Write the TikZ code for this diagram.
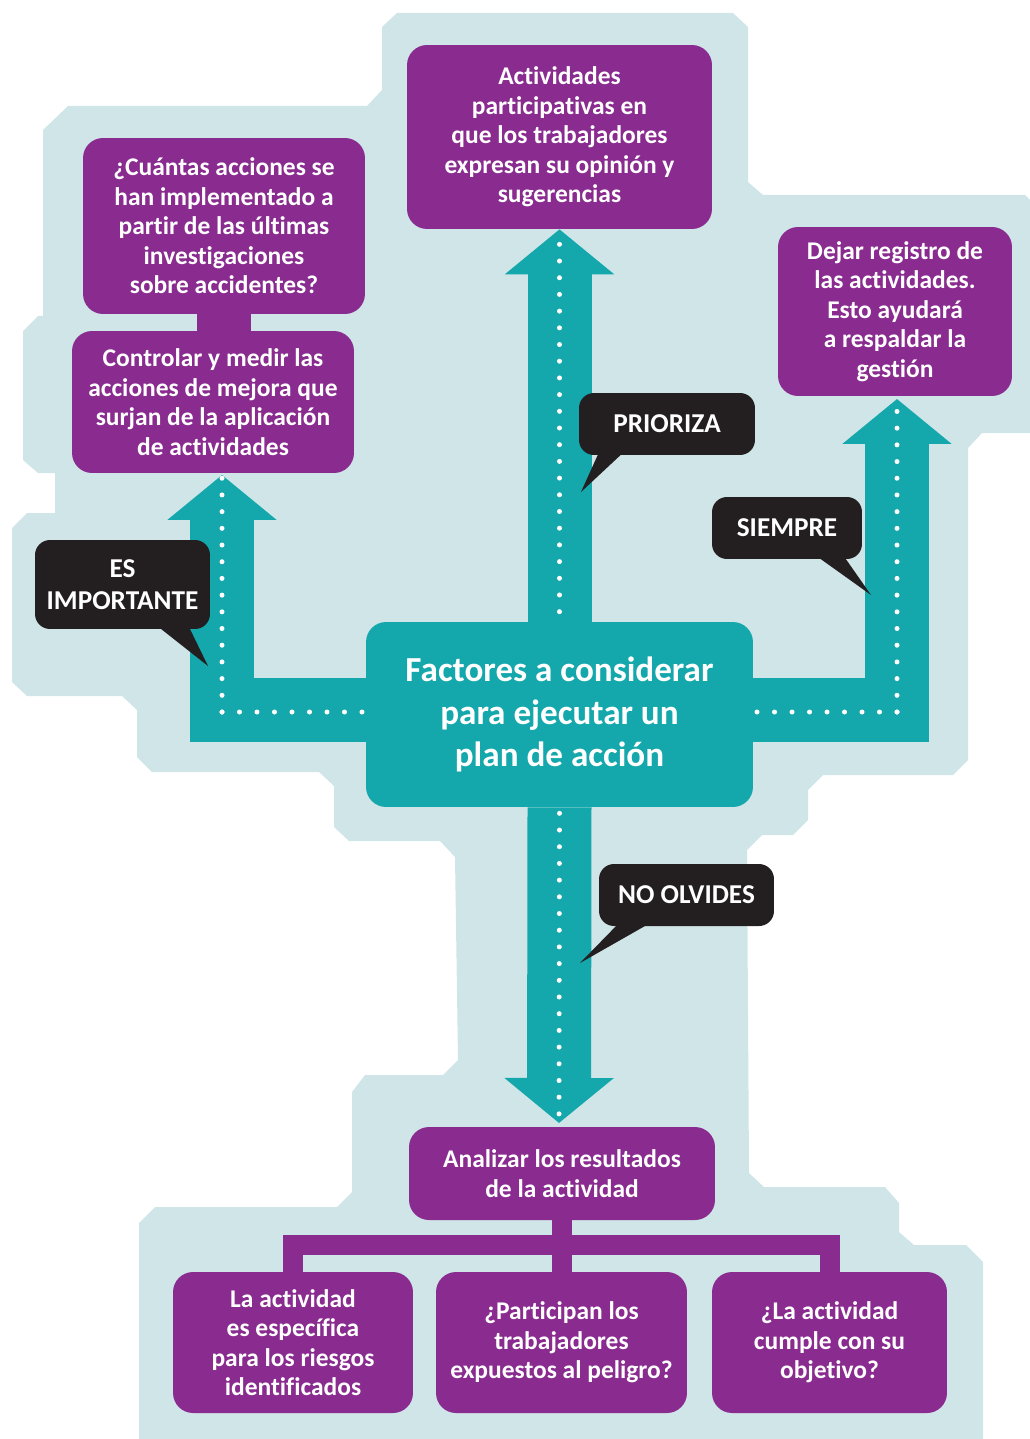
\documentclass[tikz,border=0pt]{standalone}
\usepackage{fontspec}
\setmainfont{Carlito}[Ligatures=NoCommon]
\usetikzlibrary{arrows.meta}
\definecolor{bgblue}{RGB}{208,229,232}
\definecolor{tealx}{RGB}{20,167,171}
\definecolor{purp}{RGB}{137,43,143}
\definecolor{ink}{RGB}{35,31,32}

\begin{document}
\begin{tikzpicture}[x=0.02cm, y=-0.02cm,
    box/.style={fill=purp, text=white, rounded corners=0.4cm, align=center, inner sep=0pt,
        font=\fontsize{14.5}{16.8}\selectfont\bfseries},
    bubble/.style={fill=ink, text=white, rounded corners=0.3cm, align=center, inner sep=0pt,
        minimum height=1.24cm, font=\fontsize{15.5}{18.5}\selectfont\bfseries},
    tealarrow/.style={draw=tealx, line width=1.28cm, -{Triangle[width=2.14cm, length=0.9cm]}},
    dots/.style={draw=white, line width=0.1cm, line cap=round, dash pattern=on 0pt off 0.334cm},
    hdots/.style={dots, dash pattern=on 0pt off 0.35cm},
    tree/.style={draw=purp, line width=0.4cm}]
    \useasboundingbox (0,0) rectangle (1030,1439);

    % Background shape
    \fill[bgblue] (397,13) -- (733,13) -- (748,27) -- (748,182) -- (763,195) -- (1025,195)
        -- (1030,200) -- (1030,433) -- (982,433) -- (968,448) -- (968,760) -- (953,775)
        -- (823,775) -- (808,790) -- (808,820) -- (793,835) -- (762,835) -- (747,850)
        -- (749,1173) -- (764,1187) -- (885,1187) -- (899,1203) -- (899,1232) -- (914,1245)
        -- (966,1245) -- (983,1262) -- (983,1439) -- (139,1439) -- (139,1223) -- (155,1207)
        -- (337,1207) -- (352,1192) -- (352,1092) -- (365,1075) -- (443,1075) -- (458,1060)
        -- (455,857) -- (440,841) -- (349,841) -- (334,827) -- (334,786) -- (319,772)
        -- (152,772) -- (137,757) -- (137,710) -- (122,696) -- (27,696) -- (12,682)
        -- (12,528) -- (27,513) -- (55,513) -- (55,473) -- (38,473) -- (23,460)
        -- (23,331) -- (38,316) -- (43,316) -- (43,130) -- (68,106) -- (367,106)
        -- (382,90) -- (382,27) -- cycle;

    % Central node
    \node[fill=tealx, text=white, rounded corners=0.4cm, align=center, inner sep=0pt,
        minimum width=7.74cm, minimum height=3.7cm, font=\fontsize{20}{24.2}\selectfont\bfseries]
        (factores) at (559.5,714.5) {Factores a considerar\\para ejecutar un\\plan de acción};

    % Boxes
    \node[box, minimum width=6.1cm, minimum height=3.68cm] (actividades) at (559.5,137)
        {Actividades\\participativas en\\que los trabajadores\\expresan su opinión y\\sugerencias};
    \node[box, minimum width=5.64cm, minimum height=3.52cm] (cuantas) at (224,226)
        {¿Cuántas acciones se\\han implementado a\\partir de las últimas\\investigaciones\\sobre accidentes?};
    \node[box, minimum width=5.64cm, minimum height=2.84cm] (controlar) at (213,402)
        {Controlar y medir las\\acciones de mejora que\\surjan de la aplicación\\de actividades};
    \node[box, minimum width=4.68cm, minimum height=3.38cm] (registro) at (895,311.5)
        {Dejar registro de\\las actividades.\\Esto ayudará\\a respaldar la\\gestión};
    \node[box, minimum width=6.12cm, minimum height=1.86cm] (analizar) at (562,1173.5)
        {Analizar los resultados\\de la actividad};
    \node[box, minimum width=4.8cm, minimum height=2.82cm] (especifica) at (293,1342.5)
        {La actividad\\es específica\\para los riesgos\\identificados};
    \node[box, minimum width=5.02cm, minimum height=2.82cm] (participan) at (561.5,1342.5)
        {¿Participan los\\trabajadores\\expuestos al peligro?};
    \node[box, minimum width=4.7cm, minimum height=2.82cm] (cumple) at (829.5,1342.5)
        {¿La actividad\\cumple con su\\objetivo?};

    % Corners and tips of the arrows
    \coordinate (tipL) at (222,475);
    \coordinate (tipR) at (897,399);
    \coordinate (tipB) at (559,1123);
    \coordinate (cornerL) at (222,712);
    \coordinate (cornerR) at (897,712);
    \coordinate (fork) at (561,1245);

    % Teal arrows
    \draw[tealarrow] (factores.north) -- (actividades.south);
    \draw[tealarrow] (factores.south) -- (tipB);
    \draw[tealarrow] ([yshift=0.1cm]factores.west) -| (tipL);
    \draw[tealarrow] ([yshift=0.1cm]factores.east) -| (tipR);

    % Dotted lines
    \draw[dots] ([yshift=0.2cm]factores.north) -- ([yshift=-0.06cm]actividades.south);
    \draw[dots] ([yshift=-0.12cm]factores.south) -- ([yshift=0.1cm]tipB);
    \draw[hdots] (cornerL) -- (factores.west |- cornerL);
    \draw[dots] (cornerL) -- ([yshift=-0.06cm]tipL);
    \draw[hdots] (cornerR) -- (factores.east |- cornerR);
    \draw[dots] (cornerR) -- ([yshift=-0.12cm]tipR);

    % Purple connectors
    \draw[draw=purp, line width=1.1cm] (cuantas.south) -- (cuantas.south |- controlar.north);
    \draw[tree] (analizar.south) -- (analizar.south |- participan.north);
    \draw[tree] (especifica.north) |- (fork) -| (cumple.north);

    % Speech bubbles
    \node[bubble, minimum width=3.52cm] (prioriza) at (667,424) {PRIORIZA};
    \fill[ink] (600,450) -- (626,450) -- (581,492) -- cycle;
    \node[bubble, minimum width=3cm] (siempre) at (787,528) {SIEMPRE};
    \fill[ink] (815,555) -- (843,555) -- (871,595) -- cycle;
    \node[bubble, minimum width=3.5cm, minimum height=1.78cm] (importante) at (122.5,584.5) {ES\\IMPORTANTE};
    \fill[ink] (156,625) -- (188,625) -- (208,666) -- cycle;
    \node[bubble, minimum width=3.5cm] (olvides) at (686.5,895) {NO OLVIDES};
    \fill[ink] (620,922) -- (652,922) -- (580,963) -- cycle;

\end{tikzpicture}
\end{document}
